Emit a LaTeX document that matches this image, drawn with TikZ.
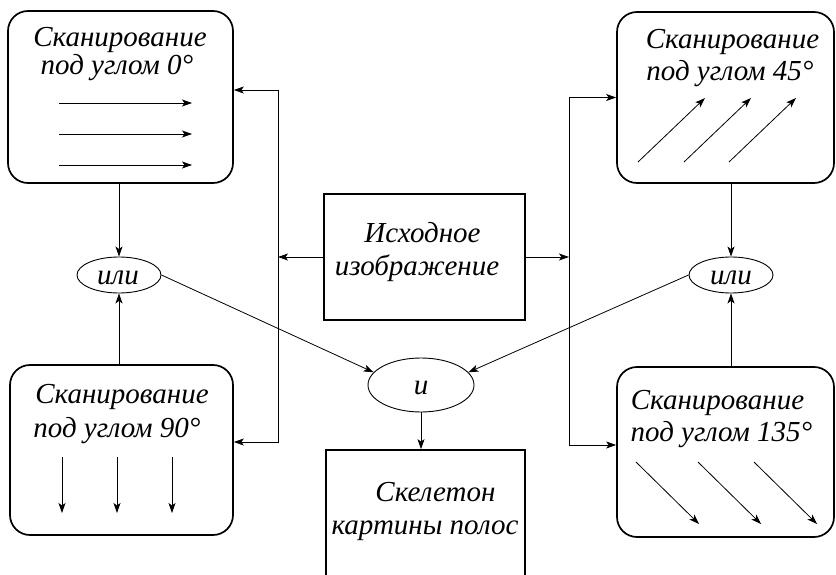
\documentclass[tikz,border=0pt]{standalone}
\usepackage{fontspec}
\setmainfont{Liberation Serif}
\usetikzlibrary{arrows.meta,calc,shapes.geometric}
\begin{document}
\begin{tikzpicture}[x=1pt,y=-1pt,
 box/.style={draw,line width=1.7pt,rounded corners=20pt,inner sep=0pt},
 rbox/.style={draw,line width=1.7pt,inner sep=0pt},
 ell/.style={draw,ellipse,line width=0.9pt,inner sep=0pt},
 lbl/.style={font=\itshape\fontsize{29}{32}\selectfont,inner sep=0pt,anchor=base},
 arr/.style={-{Stealth[length=10pt,width=7pt,inset=2.5pt]},line width=0.8pt},
 ]
\useasboundingbox (0,0) rectangle (836,575);
\clip (0,0) rectangle (836,575);
% boxes
\node[box,minimum width=225pt,minimum height=172pt] (tl) at (120.5,97) {};
\node[box,minimum width=223pt,minimum height=170pt] (bl) at (121.5,450) {};
\node[box,minimum width=217pt,minimum height=171pt] (tr) at (725.5,97.5) {};
\node[box,minimum width=217pt,minimum height=170pt] (br) at (725.5,452) {};
\node[rbox,minimum width=201pt,minimum height=126pt] (src) at (424.5,257) {};
\node[rbox,minimum width=199pt,minimum height=160pt] (bot) at (425.5,530) {};
% ellipses
\node[ell,minimum width=84pt,minimum height=36pt] (or1) at (119,275) {};
\node[ell,minimum width=84pt,minimum height=36pt] (or2) at (731,275) {};
\node[ell,minimum width=106pt,minimum height=54pt] (and) at (421,385) {};
% texts
\node[lbl] (tl1) at (120,47) {Сканирование};
\node[lbl] (tl2) at (117,75) {под углом 0°};
\node[lbl] (tr1) at (732.5,49) {Сканирование};
\node[lbl] (tr2) at (730,81) {под углом 45°};
\node[lbl] (bl1) at (122,403) {Сканирование};
\node[lbl] (bl2) at (117,437) {под углом 90°};
\node[lbl] (br1) at (717.5,409) {Сканирование};
\node[lbl] (br2) at (721.5,441) {под углом 135°};
\node[lbl] (src1) at (422.5,243) {Исходное};
\node[lbl] (src2) at (417,275) {изображение};
\node[lbl] (bot1) at (435.5,501) {Скелетон};
\node[lbl] (bot2) at (425,534) {картины полос};
\node[lbl] (or1t) at (118,284) {или};
\node[lbl] (or2t) at (731,284) {или};
\node[lbl] (andt) at (421,394) {и};
% junctions
\coordinate (jL) at (278,257);
\coordinate (jR) at (569,257);
\coordinate (tlin) at ([yshift=7pt]tl.east);
\coordinate (blin) at ([yshift=8pt]bl.east);
\coordinate (trin) at (tr.west);
\coordinate (brin) at ([yshift=7pt]br.west);
\draw[arr] (src.west) -- (jL);
\draw[arr] (src.east) -- (jR);
\draw[arr] (jL) |- (tlin);
\draw[arr] (jL) |- (blin);
\draw[arr] (jR) |- (trin);
\draw[arr] (jR) |- (brin);
\draw[arr] (tl.south -| or1) -- (or1.north);
\draw[arr] (bl.north -| or1) -- (or1.south);
\draw[arr] (tr.south -| or2) -- (or2.north);
\draw[arr] (br.north -| or2) -- (or2.south);
\draw[arr] (or1.east) -- (and.165);
\draw[arr] (or2.west) -- (and.15);
\draw[arr] (and.south) -- (and.south |- bot.north);
% inner arrows
\foreach \yy in {103,134,165} \draw[arr] (59,\yy) -- (192,\yy);
\foreach \xx in {638,684,729} \draw[arr] (\xx,162) -- ++(67,-64);
\foreach \xx in {62,117,172} \draw[arr] (\xx,457) -- (\xx,513);
\foreach \xx in {636,698,754} \draw[arr] (\xx,462) -- ++(63,62);
\end{tikzpicture}
\end{document}
